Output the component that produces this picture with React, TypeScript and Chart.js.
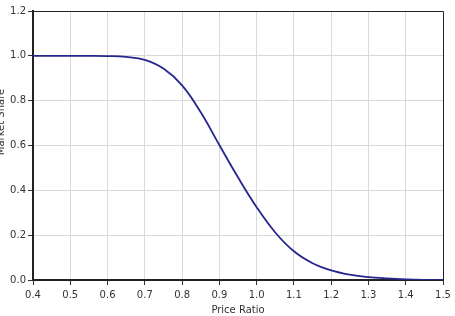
import React, { useEffect, useRef } from "react";
import { Chart, registerables } from "chart.js";

Chart.register(...registerables);

const priceRatio = [0.4, 0.45, 0.5, 0.55, 0.6, 0.65, 0.7, 0.75, 0.8, 0.85, 0.9, 0.95, 1.0, 1.05, 1.1, 1.15, 1.2, 1.25, 1.3, 1.35, 1.4, 1.45, 1.5];
const marketShare = [1.0, 1.0, 1.0, 1.0, 0.999, 0.995, 0.982, 0.943, 0.868, 0.748, 0.602, 0.458, 0.325, 0.212, 0.128, 0.075, 0.043, 0.024, 0.013, 0.007, 0.003, 0.001, 0.0005];
const xTitle = "Price Ratio";
const yTitle = "Market Share";

const FONT = "'DejaVu Sans', Verdana, sans-serif";

export default function App() {
  const ref = useRef<HTMLCanvasElement | null>(null);
  useEffect(() => {
    if (!ref.current) return;
    const frame = {
      id: "frame",
      afterDatasetsDraw(chart: any) {
        const { ctx, chartArea: a } = chart;
        ctx.save();
        ctx.strokeStyle = "#222";
        ctx.lineWidth = 1;
        ctx.beginPath();
        ctx.moveTo(a.left, a.top + 0.5);
        ctx.lineTo(a.right + 0.5, a.top + 0.5);
        ctx.lineTo(a.right + 0.5, a.bottom);
        ctx.stroke();
        ctx.restore();
      },
      afterDraw(chart: any) {
        const { ctx } = chart;
        ctx.save();
        ctx.translate(4, 122);
        ctx.rotate(-Math.PI / 2);
        ctx.font = `10px ${FONT}`;
        ctx.fillStyle = "#333";
        ctx.textAlign = "center";
        ctx.textBaseline = "alphabetic";
        ctx.fillText(yTitle, 0, 0);
        ctx.restore();
      },
    };
    const chart = new Chart(ref.current, {
      type: "line",
      data: {
        datasets: [
          {
            data: priceRatio.map((x, i) => ({ x, y: marketShare[i] })),
            borderColor: "#26268e",
            borderWidth: 1.8,
            pointRadius: 0,
            tension: 0.4,
            fill: false,
          },
        ],
      },
      options: {
        animation: false,
        responsive: true,
        maintainAspectRatio: false,
        layout: { padding: { top: 11, right: 12, left: 0, bottom: 0 } },
        plugins: { legend: { display: false }, tooltip: { enabled: false } },
        scales: {
          x: {
            type: "linear",
            min: 0.4,
            max: 1.5,
            afterFit: (s: any) => { s.height = 36; },
            ticks: {
              stepSize: 0.1,
              color: "#333",
              font: { family: FONT, size: 10 },
              padding: 4,
              maxRotation: 0,
              callback: (v: any) => Number(v).toFixed(1),
            },
            grid: { color: "#d9d9d9", tickColor: "#333", tickLength: 5, lineWidth: 1 },
            border: { color: "#222", width: 2 },
            title: {
              display: true,
              text: xTitle,
              color: "#333",
              font: { family: FONT, size: 10 },
              padding: { top: 0, bottom: 0 },
            },
          },
          y: {
            min: 0,
            max: 1.2,
            afterFit: (s: any) => { s.width = 33; },
            ticks: {
              stepSize: 0.2,
              color: "#333",
              font: { family: FONT, size: 10 },
              padding: 2,
              callback: (v: any) => Number(v).toFixed(1),
            },
            grid: { color: "#d9d9d9", tickColor: "#333", tickLength: 5, lineWidth: 1 },
            border: { color: "#222", width: 2 },
          },
        },
      },
      plugins: [frame],
    } as any);
    return () => chart.destroy();
  }, []);
  return (
    <div style={{ position: "fixed", left: 0, top: 0, width: 455, height: 316 }}>
      <canvas ref={ref} />
    </div>
  );
}
